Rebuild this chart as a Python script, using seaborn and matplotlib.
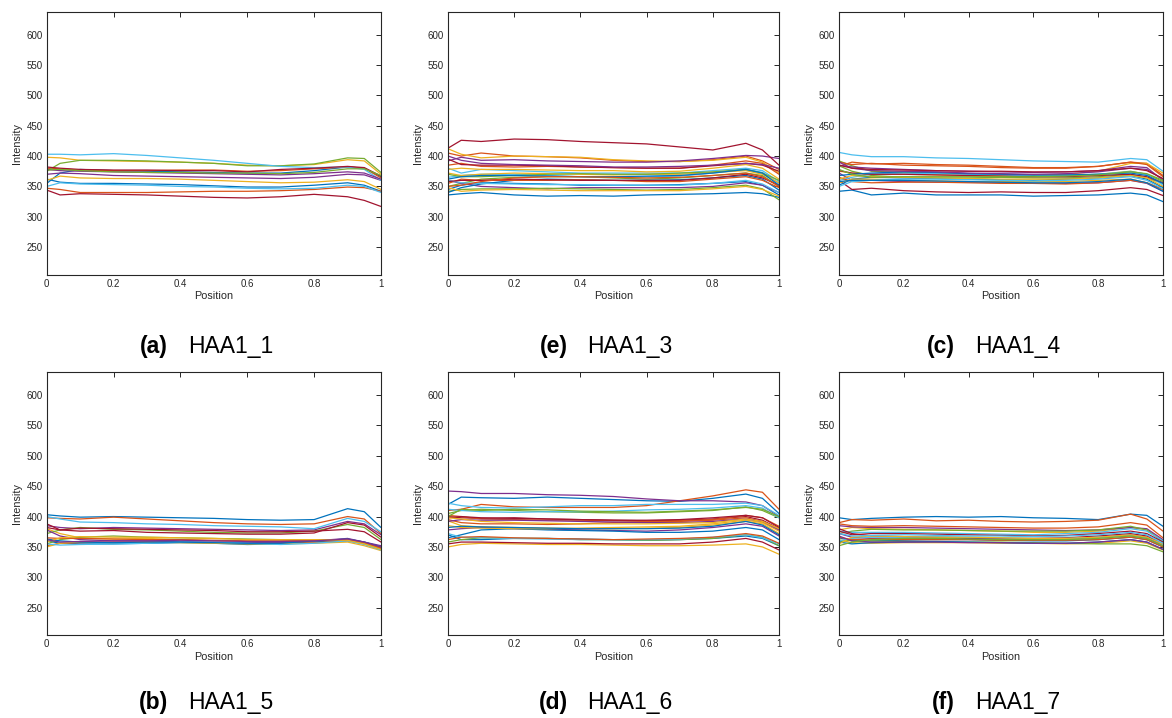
import numpy as np
import pandas as pd
import matplotlib
matplotlib.use("Agg")
import matplotlib.pyplot as plt
import seaborn as sns

# Sample positions along the normalised profile
POSITION = [0, 0.04, 0.1, 0.2, 0.3, 0.4, 0.5, 0.6, 0.7, 0.8, 0.9, 0.95, 1.0]

# Intensity profiles, one row per trace
HAA1_1 = [
    [355, 372, 378, 376, 375, 374, 373, 372, 372, 376, 382, 380, 366],
    [380, 379, 377, 376, 376, 377, 377, 375, 376, 379, 382, 380, 364],
    [398, 397, 393, 392, 391, 390, 388, 385, 384, 386, 394, 392, 370],
    [370, 372, 371, 368, 367, 366, 365, 364, 363, 365, 370, 369, 360],
    [375, 388, 393, 393, 392, 390, 388, 384, 384, 387, 397, 396, 373],
    [403, 403, 402, 404, 401, 397, 393, 388, 383, 381, 382, 378, 360],
    [382, 380, 378, 377, 377, 376, 376, 374, 378, 380, 383, 381, 367],
    [362, 357, 355, 355, 354, 353, 351, 349, 349, 352, 356, 352, 342],
    [347, 345, 340, 340, 340, 341, 342, 342, 343, 345, 349, 348, 342],
    [360, 367, 364, 363, 363, 362, 360, 358, 356, 357, 361, 358, 345],
    [378, 376, 375, 374, 373, 372, 371, 370, 369, 371, 374, 372, 362],
    [377, 378, 376, 374, 373, 373, 372, 372, 371, 373, 379, 379, 368],
    [350, 356, 354, 353, 352, 350, 349, 347, 346, 347, 352, 350, 340],
    [344, 336, 338, 337, 336, 334, 332, 331, 333, 337, 333, 327, 317],
]

HAA1_3 = [
    [336, 338, 340, 336, 334, 335, 334, 336, 337, 338, 340, 338, 332],
    [405, 400, 405, 400, 399, 397, 393, 391, 391, 394, 400, 392, 378],
    [412, 403, 397, 400, 399, 398, 394, 392, 391, 393, 398, 390, 372],
    [392, 398, 393, 394, 392, 391, 390, 390, 392, 396, 401, 400, 396],
    [350, 355, 362, 365, 366, 366, 364, 362, 364, 368, 372, 368, 350],
    [380, 372, 378, 376, 374, 372, 372, 372, 372, 376, 380, 376, 358],
    [413, 426, 424, 428, 427, 424, 422, 420, 415, 410, 421, 410, 385],
    [345, 352, 356, 355, 354, 352, 352, 352, 353, 355, 358, 352, 336],
    [385, 388, 383, 382, 383, 382, 381, 380, 380, 385, 392, 388, 370],
    [378, 380, 378, 378, 377, 376, 376, 374, 375, 380, 386, 380, 362],
    [360, 355, 350, 348, 346, 348, 348, 348, 348, 350, 356, 352, 340],
    [342, 345, 346, 346, 347, 346, 345, 344, 345, 348, 352, 346, 328],
    [365, 368, 370, 370, 368, 366, 366, 366, 367, 372, 378, 373, 355],
    [395, 386, 385, 385, 384, 382, 381, 380, 380, 384, 388, 385, 375],
    [340, 348, 354, 360, 362, 361, 360, 360, 361, 364, 368, 362, 344],
    [355, 362, 360, 360, 360, 361, 360, 358, 358, 362, 366, 360, 348],
    [372, 368, 370, 372, 371, 370, 369, 370, 370, 373, 376, 370, 356],
    [400, 393, 388, 386, 385, 384, 382, 382, 383, 385, 388, 386, 380],
    [370, 366, 366, 368, 370, 371, 370, 370, 372, 374, 378, 372, 360],
    [360, 356, 355, 354, 353, 353, 352, 352, 352, 355, 360, 354, 340],
    [358, 360, 360, 362, 361, 360, 360, 360, 360, 364, 370, 364, 352],
    [362, 366, 368, 368, 367, 366, 366, 367, 368, 372, 378, 372, 352],
    [350, 352, 358, 364, 366, 366, 365, 364, 365, 368, 372, 366, 350],
    [348, 342, 344, 345, 344, 343, 343, 343, 343, 346, 350, 345, 334],
]

HAA1_4 = [
    [342, 344, 336, 339, 336, 336, 336, 334, 335, 336, 339, 336, 325],
    [383, 390, 387, 388, 386, 385, 383, 381, 381, 383, 390, 388, 368],
    [375, 372, 370, 370, 369, 368, 368, 368, 370, 375, 388, 388, 372],
    [372, 360, 360, 358, 357, 357, 357, 355, 355, 356, 360, 355, 342],
    [392, 384, 375, 373, 372, 371, 370, 368, 368, 370, 375, 370, 358],
    [406, 402, 399, 399, 397, 396, 394, 392, 391, 390, 396, 394, 375],
    [360, 345, 347, 343, 341, 340, 341, 340, 340, 343, 348, 345, 335],
    [352, 362, 365, 364, 363, 362, 361, 360, 362, 364, 368, 362, 348],
    [390, 386, 388, 385, 384, 383, 381, 380, 380, 383, 390, 386, 366],
    [356, 362, 362, 360, 359, 358, 358, 358, 358, 360, 362, 356, 345],
    [385, 382, 380, 378, 376, 375, 374, 373, 374, 376, 383, 381, 360],
    [384, 375, 368, 365, 364, 364, 365, 364, 364, 366, 370, 364, 355],
    [360, 365, 370, 372, 371, 370, 369, 367, 368, 370, 374, 370, 352],
    [376, 372, 370, 370, 369, 368, 367, 366, 366, 368, 370, 366, 356],
    [368, 370, 372, 374, 373, 371, 370, 369, 369, 370, 372, 368, 355],
    [365, 358, 356, 357, 357, 356, 355, 355, 354, 356, 360, 356, 345],
    [362, 368, 366, 365, 364, 363, 362, 362, 362, 364, 368, 364, 350],
    [390, 380, 376, 375, 374, 372, 371, 370, 371, 374, 380, 378, 362],
    [378, 370, 365, 366, 366, 366, 366, 366, 367, 369, 374, 371, 360],
    [350, 358, 360, 362, 362, 361, 360, 359, 360, 362, 366, 360, 346],
    [385, 380, 378, 377, 376, 375, 375, 374, 374, 376, 380, 376, 363],
    [358, 360, 360, 360, 359, 358, 357, 356, 356, 358, 362, 356, 342],
]

HAA1_5 = [
    [403, 401, 399, 400, 399, 398, 397, 395, 394, 395, 413, 408, 382],
    [398, 397, 396, 399, 396, 393, 390, 388, 387, 388, 400, 396, 372],
    [380, 372, 365, 363, 364, 362, 360, 360, 359, 358, 360, 356, 345],
    [385, 382, 380, 382, 381, 380, 379, 378, 377, 378, 392, 388, 370],
    [372, 378, 382, 379, 378, 376, 374, 373, 373, 376, 387, 382, 362],
    [400, 396, 391, 390, 388, 387, 385, 384, 383, 380, 397, 392, 375],
    [388, 378, 376, 377, 374, 373, 372, 371, 371, 373, 390, 386, 366],
    [360, 356, 355, 355, 356, 357, 356, 354, 355, 358, 362, 357, 348],
    [352, 356, 357, 358, 358, 358, 357, 356, 356, 357, 360, 355, 346],
    [350, 356, 358, 357, 358, 357, 356, 355, 355, 356, 358, 352, 344],
    [378, 368, 362, 360, 360, 359, 358, 357, 357, 360, 364, 358, 352],
    [355, 362, 366, 368, 366, 365, 364, 363, 362, 362, 362, 356, 348],
    [355, 353, 354, 355, 356, 358, 358, 356, 354, 356, 360, 354, 345],
    [382, 378, 381, 380, 379, 378, 377, 375, 375, 376, 379, 375, 358],
    [363, 360, 358, 357, 358, 358, 357, 356, 356, 360, 363, 358, 350],
    [365, 364, 364, 363, 362, 362, 361, 360, 360, 361, 362, 357, 348],
    [358, 365, 367, 366, 366, 365, 364, 362, 362, 362, 361, 355, 346],
    [362, 358, 359, 360, 360, 361, 360, 359, 359, 360, 363, 358, 350],
]

HAA1_6 = [
    [420, 432, 431, 430, 432, 430, 428, 426, 425, 430, 437, 430, 405],
    [410, 412, 420, 416, 415, 415, 415, 418, 426, 434, 444, 440, 412],
    [350, 354, 356, 355, 354, 354, 353, 352, 352, 353, 355, 350, 338],
    [442, 441, 438, 438, 436, 435, 433, 429, 426, 426, 424, 418, 400],
    [405, 410, 412, 410, 408, 407, 406, 406, 408, 410, 416, 410, 398],
    [422, 418, 415, 414, 416, 418, 418, 420, 420, 420, 422, 418, 402],
    [400, 398, 397, 398, 396, 395, 394, 393, 394, 396, 400, 394, 380],
    [370, 362, 362, 364, 364, 363, 362, 361, 362, 364, 368, 364, 352],
    [395, 390, 388, 388, 387, 388, 390, 391, 392, 394, 398, 392, 380],
    [393, 385, 383, 382, 381, 380, 380, 381, 382, 386, 392, 388, 372],
    [378, 380, 382, 380, 379, 378, 377, 376, 378, 382, 388, 384, 368],
    [358, 362, 365, 364, 364, 362, 362, 361, 362, 364, 370, 366, 352],
    [412, 410, 408, 407, 408, 408, 409, 411, 412, 414, 418, 414, 398],
    [355, 358, 358, 357, 356, 356, 355, 355, 355, 358, 364, 358, 345],
    [365, 370, 378, 380, 378, 377, 376, 374, 374, 376, 382, 378, 362],
    [402, 400, 396, 395, 394, 394, 393, 392, 393, 395, 402, 398, 384],
    [385, 382, 381, 380, 380, 381, 382, 383, 384, 388, 394, 390, 376],
    [392, 395, 394, 394, 393, 392, 391, 390, 390, 392, 396, 392, 378],
    [400, 412, 410, 412, 411, 409, 408, 407, 409, 411, 415, 412, 400],
    [372, 366, 365, 364, 363, 362, 362, 362, 363, 366, 370, 365, 355],
    [398, 400, 398, 397, 396, 395, 394, 394, 395, 398, 402, 398, 382],
    [382, 384, 383, 382, 381, 380, 380, 380, 381, 384, 392, 386, 370],
    [362, 366, 367, 365, 364, 363, 362, 363, 364, 366, 372, 368, 356],
    [398, 396, 392, 390, 389, 388, 388, 388, 389, 390, 396, 392, 380],
]

HAA1_7 = [
    [398, 395, 397, 399, 400, 399, 400, 398, 397, 395, 404, 402, 384],
    [390, 395, 394, 396, 393, 394, 392, 391, 392, 394, 404, 396, 376],
    [378, 382, 380, 379, 378, 377, 376, 374, 374, 376, 382, 378, 360],
    [385, 383, 382, 382, 381, 380, 379, 378, 377, 378, 382, 380, 362],
    [372, 376, 379, 378, 378, 377, 376, 376, 376, 378, 384, 378, 358],
    [376, 374, 374, 374, 373, 372, 371, 370, 372, 374, 380, 376, 360],
    [380, 372, 368, 367, 366, 365, 364, 364, 365, 368, 372, 368, 355],
    [365, 360, 360, 361, 362, 362, 361, 360, 360, 362, 366, 362, 350],
    [388, 385, 384, 385, 384, 383, 382, 381, 381, 383, 390, 386, 365],
    [362, 357, 356, 357, 357, 357, 356, 356, 355, 356, 360, 356, 345],
    [372, 366, 364, 365, 365, 364, 363, 363, 363, 366, 370, 366, 352],
    [358, 362, 360, 359, 358, 358, 358, 357, 356, 355, 355, 352, 342],
    [360, 364, 366, 366, 367, 366, 365, 364, 364, 366, 368, 364, 352],
    [376, 370, 372, 372, 371, 370, 369, 368, 369, 372, 376, 372, 358],
    [358, 355, 357, 358, 359, 358, 357, 356, 356, 358, 362, 358, 346],
    [366, 362, 363, 362, 362, 362, 361, 361, 361, 362, 366, 362, 350],
    [355, 366, 368, 367, 366, 366, 365, 364, 364, 366, 370, 366, 355],
    [368, 360, 358, 358, 358, 357, 357, 356, 356, 358, 362, 358, 346],
    [352, 358, 362, 364, 364, 363, 362, 362, 362, 364, 368, 364, 352],
    [372, 368, 369, 370, 369, 368, 368, 367, 368, 370, 374, 370, 356],
]

PANEL_LETTERS = ["(a)", "(e)", "(c)", "(b)", "(d)", "(f)"]
PANEL_NAMES = ["HAA1_1", "HAA1_3", "HAA1_4", "HAA1_5", "HAA1_6", "HAA1_7"]
PANEL_DATA = [HAA1_1, HAA1_3, HAA1_4, HAA1_5, HAA1_6, HAA1_7]

Y_TICKS = [250, 300, 350, 400, 450, 500, 550, 600]
X_TICKS = [0, 0.2, 0.4, 0.6, 0.8, 1.0]
X_TICK_LABELS = ["0", "0.2", "0.4", "0.6", "0.8", "1"]

# Default line colour order
LINE_COLORS = ["#0072BD", "#D95319", "#EDB120", "#7E2F8E",
               "#77AC30", "#4DBEEE", "#A2142F"]

sns.set_theme(style="white")
plt.rcParams["font.family"] = ["Liberation Sans", "DejaVu Sans"]

W, H = 1172, 718
fig = plt.figure(figsize=(W / 100, H / 100), dpi=100)

# Axes boxes in pixel coordinates: (left, right) per column, (top, bottom) per row
COLS = [(46.7, 381.0), (448.0, 779.0), (839.0, 1163.0)]
ROWS = [(11.5, 274.5), (372.0, 635.0)]
CAPTION_Y = [347.0, 703.0]

edge = "#262626"
for i, traces in enumerate(PANEL_DATA):
    r, c = divmod(i, 3)
    x0, x1 = COLS[c]
    y0, y1 = ROWS[r]
    ax = fig.add_axes([x0 / W, 1 - y1 / H, (x1 - x0) / W, (y1 - y0) / H])

    df = pd.DataFrame(
        [(f"t{k:02d}", p, v) for k, row in enumerate(traces)
         for p, v in zip(POSITION, row)],
        columns=["trace", "Position", "Intensity"],
    )
    pal = [LINE_COLORS[k % len(LINE_COLORS)] for k in range(len(traces))]
    sns.lineplot(data=df, x="Position", y="Intensity", hue="trace",
                 palette=pal, estimator=None, legend=False,
                 linewidth=0.9, ax=ax)

    ax.set_xlim(0, 1)
    ax.set_ylim(205, 638)
    ax.set_xticks(X_TICKS)
    ax.set_xticklabels(X_TICK_LABELS)
    ax.set_yticks(Y_TICKS)
    ax.tick_params(direction="in", length=3.5, width=0.7, colors=edge,
                   labelsize=7, pad=3, top=True, right=True,
                   labeltop=False, labelright=False)
    for s in ax.spines.values():
        s.set_color(edge)
        s.set_linewidth(0.8)
    ax.set_xlabel("Position", fontsize=7.8, color=edge, labelpad=2)
    ax.set_ylabel("Intensity", fontsize=7.8, color=edge, labelpad=3)
    ax.grid(False)

    cx = (x0 + x1) / 2
    cy = 1 - CAPTION_Y[r] / H
    fig.text((cx - 46) / W, cy, PANEL_LETTERS[i], ha="right", va="center",
             fontsize=16.5, fontweight="bold", color="black")
    fig.text((cx - 26) / W, cy, PANEL_NAMES[i], ha="left", va="center",
             fontsize=16.5, color="black")

fig.savefig("out.png", dpi=100, facecolor="white")
